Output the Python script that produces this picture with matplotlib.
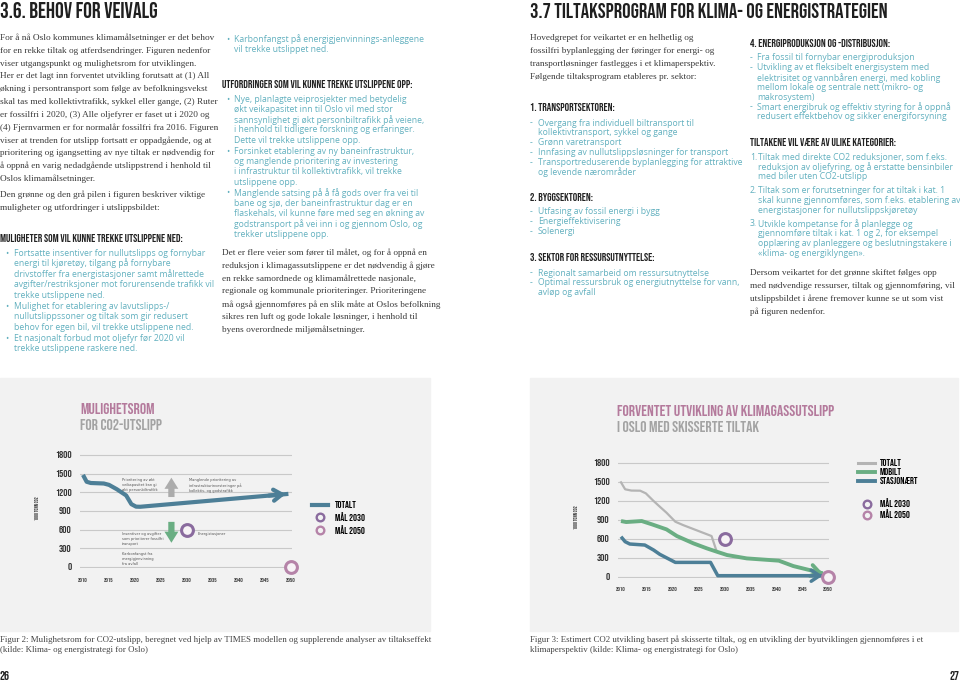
"""
Two-page report spread: text columns plus two CO2 emission charts.
"""

import matplotlib
matplotlib.use("Agg")
import matplotlib.pyplot as plt
from matplotlib import font_manager
from matplotlib.lines import Line2D
from matplotlib.patches import Rectangle

W, H = 960, 682

# ---- chart data -------------------------------------------------------------
year_ticks = [2010, 2015, 2020, 2025, 2030, 2035, 2040, 2045, 2050]
value_ticks = [0, 300, 600, 900, 1200, 1500, 1800]

# figur 2: mulighetsrom (TOTALT)
mul_years = [2010, 2010.7, 2011.5, 2014, 2015, 2016.5, 2018.3, 2019.3, 2020.2, 2021, 2049.5]
mul_total = [1480, 1370, 1350, 1342, 1320, 1250, 1150, 1010, 970, 968, 1175]
mul_up_arrow = [1080, 1480]      # grå pil (utfordringer)
mul_down_arrow = [770, 345]      # grønn pil (muligheter)
mul_arrow_year = 2027

# figur 3: forventet utvikling
fv_total_years = [2010, 2010.8, 2012, 2013.7, 2014.8, 2016.3, 2017.5, 2018.8, 2020.5, 2022, 2027.5, 2028.4]
fv_total = [1490, 1380, 1360, 1358, 1316, 1195, 1105, 1010, 868, 815, 642, 420]
fv_mobil_years = [2010, 2011, 2014, 2016, 2018.8, 2020.8, 2024, 2026.6, 2028.5, 2030.5, 2034.3, 2040.5, 2043.3, 2049]
fv_mobil = [879, 863, 879, 826, 747, 642, 526, 447, 395, 342, 289, 253, 168, 53]
fv_stasj_years = [2010, 2010.8, 2011.7, 2014.6, 2016.3, 2017.5, 2020.5, 2027.3, 2028.7, 2049.5]
fv_stasj = [632, 553, 516, 500, 421, 353, 226, 226, 16, 16]

goal_years = [2030, 2050]
goal_values = [600, 0]

# ---- colours ----------------------------------------------------------------
BLUE = "#4d7f97"
GREEN = "#6aae83"
GREY_LINE = "#b4b4b4"
GOAL_2030 = "#8a6b9e"
GOAL_2050 = "#b583a8"
TITLE_PINK = "#b47a9c"
TITLE_GREY = "#a3a3a3"
TEAL = "#62b0bf"
DARK = "#3a3a3a"
PANEL = "#f2f2f2"

# ---- fonts ------------------------------------------------------------------
names = {f.name for f in font_manager.fontManager.ttflist}


def pick(*cands):
    for c in cands:
        if c in names:
            return c
    return "DejaVu Sans"


COND = pick("Bebas Neue", "Oswald", "Roboto Condensed", "Liberation Sans Narrow",
            "DejaVu Sans Condensed", "DejaVu Sans")
SANS = pick("Open Sans", "Lato", "DejaVu Sans")
SERIF = pick("Liberation Serif", "DejaVu Serif")

fig = plt.figure(figsize=(9.6, 6.82), dpi=100)
fig.patch.set_facecolor("white")
renderer = fig.canvas.get_renderer()


def put(x, y, s, **kw):
    kw.setdefault("va", "center")
    return fig.text(x / W, 1 - y / H, s, **kw)


def fit_size(s, width, **kw):
    t = fig.text(0, 0, s, fontsize=10, **kw)
    w = t.get_window_extent(renderer).width
    t.remove()
    return 10 * width / w


def block(x, y0, dy, lines, **kw):
    for i, s in enumerate(lines):
        put(x, y0 + i * dy, s, **kw)


def listing(xm, xt, y0, dy, items, marks, gap=0, **kw):
    y = y0
    for m, item in zip(marks, items):
        put(xm, y, m, **kw)
        for line in item:
            put(xt, y, line, **kw)
            y += dy
        y += gap


# ---- text content -----------------------------------------------------------
intro_left = [
    "For å nå Oslo kommunes klimamålsetninger er det behov",
    "for en rekke tiltak og atferdsendringer. Figuren nedenfor",
    "viser utgangspunkt og mulighetsrom for utviklingen.",
    "Her er det lagt inn forventet utvikling forutsatt at (1) All",
    "økning i persontransport som følge av befolkningsvekst",
    "skal tas med kollektivtrafikk, sykkel eller gange, (2) Ruter",
    "er fossilfri i 2020, (3) Alle oljefyrer er faset ut i 2020 og",
    "(4) Fjernvarmen er for normalår fossilfri fra 2016. Figuren",
    "viser at trenden for utslipp fortsatt er oppadgående, og at",
    "prioritering og igangsetting av nye tiltak er nødvendig for",
    "å oppnå en varig nedadgående utslippstrend i henhold til",
    "Oslos klimamålsetninger.",
]
intro_left2 = [
    "Den grønne og den grå pilen i figuren beskriver viktige",
    "muligheter og utfordringer i utslippsbildet:",
]
muligheter = [
    ["Fortsatte insentiver for nullutslipps og fornybar",
     "energi til kjøretøy, tilgang på fornybare",
     "drivstoffer fra energistasjoner samt målrettede",
     "avgifter/restriksjoner mot forurensende trafikk vil",
     "trekke utslippene ned."],
    ["Mulighet for etablering av lavutslipps-/",
     "nullutslippssoner og tiltak som gir redusert",
     "behov for egen bil, vil trekke utslippene ned."],
    ["Et nasjonalt forbud mot oljefyr før 2020 vil",
     "trekke utslippene raskere ned."],
]
karbon = [["Karbonfangst på energigjenvinnings-anleggene",
           "vil trekke utslippet ned."]]
utfordringer = [
    ["Nye, planlagte veiprosjekter med betydelig",
     "økt veikapasitet inn til Oslo vil med stor",
     "sannsynlighet gi økt personbiltrafikk på veiene,",
     "i henhold til tidligere forskning og erfaringer.",
     "Dette vil trekke utslippene opp."],
    ["Forsinket etablering av ny baneinfrastruktur,",
     "og manglende prioritering av investering",
     "i infrastruktur til kollektivtrafikk, vil trekke",
     "utslippene opp."],
    ["Manglende satsing på å få gods over fra vei til",
     "bane og sjø, der baneinfrastruktur dag er en",
     "flaskehals, vil kunne føre med seg en økning av",
     "godstransport på vei inn i og gjennom Oslo, og",
     "trekker utslippene opp."],
]
mid_para = [
    "Det er flere veier som fører til målet, og for å oppnå en",
    "reduksjon i klimagassutslippene er det nødvendig å gjøre",
    "en rekke samordnede og klimamålrettede nasjonale,",
    "regionale og kommunale prioriteringer. Prioriteringene",
    "må også gjennomføres på en slik måte at Oslos befolkning",
    "sikres ren luft og gode lokale løsninger, i henhold til",
    "byens overordnede miljømålsetninger.",
]
right_intro = [
    "Hovedgrepet for veikartet er en helhetlig og",
    "fossilfri byplanlegging der føringer for energi- og",
    "transportløsninger fastlegges i et klimaperspektiv.",
    "Følgende tiltaksprogram etableres pr. sektor:",
]
transport = [
    ["Overgang fra individuell biltransport til", "kollektivtransport, sykkel og gange"],
    ["Grønn varetransport"],
    ["Innfasing av nullutslippsløsninger for transport"],
    ["Transportreduserende byplanlegging for attraktive", "og levende nærområder"],
]
bygg = [["Utfasing av fossil energi i bygg"], ["Energieffektivisering"], ["Solenergi"]]
ressurs = [
    ["Regionalt samarbeid om ressursutnyttelse"],
    ["Optimal ressursbruk og energiutnyttelse for vann,", "avløp og avfall"],
]
energi = [
    ["Fra fossil til fornybar energiproduksjon"],
    ["Utvikling av et fleksibelt energisystem med",
     "elektrisitet og vannbåren energi, med kobling",
     "mellom lokale og sentrale nett (mikro- og",
     "makrosystem)"],
    ["Smart energibruk og effektiv styring for å oppnå",
     "redusert effektbehov og sikker energiforsyning"],
]
kategorier = [
    ["Tiltak med direkte CO2 reduksjoner, som f.eks.",
     "reduksjon av oljefyring, og å erstatte bensinbiler",
     "med biler uten CO2-utslipp"],
    ["Tiltak som er forutsetninger for at tiltak i kat. 1",
     "skal kunne gjennomføres, som f.eks. etablering av",
     "energistasjoner for nullutslippskjøretøy"],
    ["Utvikle kompetanse for å planlegge og",
     "gjennomføre tiltak i kat. 1 og 2, for eksempel",
     "opplæring av planleggere og beslutningstakere i",
     "«klima- og energiklyngen»."],
]
right_outro = [
    "Dersom veikartet for det grønne skiftet følges opp",
    "med nødvendige ressurser, tiltak og gjennomføring, vil",
    "utslippsbildet i årene fremover kunne se ut som vist",
    "på figuren nedenfor.",
]
cap2 = ["Figur 2: Mulighetsrom for CO2-utslipp, beregnet ved hjelp av TIMES modellen og supplerende analyser av tiltakseffekt",
        "(kilde: Klima- og energistrategi for Oslo)"]
cap3 = ["Figur 3: Estimert CO2 utvikling basert på skisserte tiltak, og en utvikling der byutviklingen gjennomføres i et",
        "klimaperspektiv (kilde: Klima- og energistrategi for Oslo)"]

# ---- page text --------------------------------------------------------------
head_kw = dict(family=COND, weight="bold", color="#1f1f1f", stretch="condensed")
put(0, 10, "3.6. BEHOV FOR VEIVALG",
    fontsize=fit_size("3.6. BEHOV FOR VEIVALG", 160, **head_kw), **head_kw)
t37 = "3.7 TILTAKSPROGRAM FOR KLIMA- OG ENERGISTRATEGIEN"
put(530, 10, t37, fontsize=fit_size(t37, 359, **head_kw), **head_kw)

serif_kw = dict(family=SERIF, color=DARK)
serif_kw["fontsize"] = fit_size(intro_left[0], 214, **serif_kw)
teal_kw = dict(family=SANS, color=TEAL)
teal_kw["fontsize"] = fit_size(karbon[0][0], 188, **teal_kw)
sub_kw = dict(family=COND, weight="bold", color="#222222", stretch="condensed")
sub_kw["fontsize"] = fit_size("UTFORDRINGER SOM VIL KUNNE TREKKE UTSLIPPENE OPP:", 192, **sub_kw)

# left column
block(0, 38, 12.8, intro_left, **serif_kw)
block(0, 195, 12.8, intro_left2, **serif_kw)
put(0, 238, "MULIGHETER SOM VIL KUNNE TREKKE UTSLIPPENE NED:", **sub_kw)
listing(5, 14, 253, 10.5, muligheter, ["•"] * 3, gap=0.6, **teal_kw)

# middle column
listing(226, 234, 39, 10.5, karbon, ["•"], **teal_kw)
put(222, 84, "UTFORDRINGER SOM VIL KUNNE TREKKE UTSLIPPENE OPP:", **sub_kw)
listing(226, 234, 99, 10.3, utfordringer, ["•"] * 3, gap=0.6, **teal_kw)
block(222, 253, 12.8, mid_para, **serif_kw)

# right page, column 1
block(530, 38, 13, right_intro, **serif_kw)
put(530, 107, "1. TRANSPORTSEKTOREN:", **sub_kw)
listing(530, 538, 123, 9.8, transport, ["-"] * 4, **teal_kw)
put(530, 197, "2. BYGGSEKTOREN:", **sub_kw)
listing(530, 538, 212, 9.8, bygg, ["-"] * 3, **teal_kw)
put(530, 257, "3. SEKTOR FOR RESSURSUTNYTTELSE:", **sub_kw)
listing(530, 538, 273, 9.8, ressurs, ["-"] * 2, **teal_kw)

# right page, column 2
put(750, 43, "4. ENERGIPRODUKSJON OG -DISTRIBUSJON:", **sub_kw)
listing(750, 757, 58, 9.8, energi, ["-"] * 3, **teal_kw)
put(750, 142, "TILTAKENE VIL VÆRE AV ULIKE KATEGORIER:", **sub_kw)
listing(750, 758, 157, 9.8, kategorier, ["1.", "2.", "3."], gap=4, **teal_kw)
block(750, 273, 12.8, right_outro, **serif_kw)

# captions and page numbers
cap_kw = dict(family=SERIF, color="#444444")
cap_kw["fontsize"] = fit_size(cap2[0], 430, **cap_kw)
block(0, 640, 10.5, cap2, **cap_kw)
block(530, 640, 10.5, cap3, **cap_kw)
put(0, 676, "26", fontsize=9, **head_kw)
put(960, 676, "27", fontsize=9, ha="right", **head_kw)

# grey panels behind the charts
for x0, x1 in [(0, 430), (530, 958)]:
    fig.add_artist(Rectangle((x0 / W, 1 - 631 / H), (x1 - x0) / W, (631 - 378) / H,
                             transform=fig.transFigure, color=PANEL, zorder=-1))


# ---- charts -----------------------------------------------------------------
def make_axes(p2010, p2050, p0, p1800, xlim=(2009.4, 2050.2), ylim=(-15, 1815)):
    sx = (p2050 - p2010) / 40
    sy = (p0 - p1800) / 1800
    left = p2010 + (xlim[0] - 2010) * sx
    right = p2010 + (xlim[1] - 2010) * sx
    bottom = p0 - (ylim[0]) * sy
    top = p0 - (ylim[1]) * sy
    ax = fig.add_axes([left / W, 1 - bottom / H, (right - left) / W, (bottom - top) / H])
    ax.set_xlim(*xlim)
    ax.set_ylim(*ylim)
    ax.patch.set_visible(False)
    for sp in ax.spines.values():
        sp.set_visible(False)
    ax.set_xticks(year_ticks)
    ax.set_yticks(value_ticks)
    ax.tick_params(length=0, colors="#333333")
    ax.tick_params(axis="y", pad=6)
    ax.tick_params(axis="x", pad=7)
    for lab in ax.get_yticklabels():
        lab.set_fontproperties(dict(family=COND, weight="bold", size=7.5, stretch="condensed"))
    for lab in ax.get_xticklabels():
        lab.set_fontproperties(dict(family=COND, weight="bold", size=4.2, stretch="condensed"))
    ax.grid(axis="y", color="#c9c9c9", lw=0.8)
    ax.set_axisbelow(True)
    return ax


def line_with_head(ax, xs, ys, color, lw):
    ax.plot(xs, ys, color=color, lw=lw, solid_capstyle="butt", zorder=3)
    tail = (xs[-1] - 0.15 * (xs[-1] - xs[-2]), ys[-1] - 0.15 * (ys[-1] - ys[-2]))
    ax.annotate("", xy=(xs[-1], ys[-1]), xytext=tail,
                arrowprops=dict(arrowstyle="->,head_length=0.6,head_width=0.4",
                                color=color, lw=lw), zorder=3)


def goals(ax, ms=8.5):
    for yr, v, c in zip(goal_years, goal_values, [GOAL_2030, GOAL_2050]):
        ax.plot([yr], [v], ls="", marker="o", ms=ms, mfc="#f7f3f6", mec=c, mew=2.2,
                clip_on=False, zorder=4)


def goal_handles():
    return [Line2D([], [], ls="", marker="o", ms=5.5, mfc="none", mec=c, mew=1.7)
            for c in [GOAL_2030, GOAL_2050]]


title_kw = dict(family=COND, weight="bold", stretch="condensed")
small_kw = dict(family=COND, weight="bold", stretch="condensed", color="#333333")
legend_prop = dict(family=COND, weight="bold", size=7.0, stretch="condensed")
leg_kw = dict(loc="upper left", bbox_transform=fig.transFigure, frameon=False,
              borderpad=0, borderaxespad=0, prop=legend_prop)
big_arrow = "simple,head_length=0.8,head_width=1.0,tail_width=0.45"

# figur 2
ax1 = make_axes(83, 291, 567, 455)
line_with_head(ax1, mul_years, mul_total, BLUE, 3)
ax1.annotate("", xy=(mul_arrow_year, mul_up_arrow[1]), xytext=(mul_arrow_year, mul_up_arrow[0]),
             arrowprops=dict(arrowstyle=big_arrow, color="#acacac", lw=0), zorder=3)
ax1.annotate("", xy=(mul_arrow_year, mul_down_arrow[1]), xytext=(mul_arrow_year, mul_down_arrow[0]),
             arrowprops=dict(arrowstyle=big_arrow, color=GREEN, lw=0), zorder=3)
goals(ax1)
note_kw = dict(fontsize=2.6, color="#555555", va="top", linespacing=1.3)
ax1.text(2017.5, 1430, "Prioritering av økt\nveikapasitet kan gi\nøkt personbiltrafikk", **note_kw)
ax1.text(2030.3, 1430, "Manglende prioritering av\ninfrastrukturinvesteringer på\nkollektiv- og godstrafikk", **note_kw)
ax1.text(2017.5, 565, "Insentiver og avgifter\nsom prioriterer fossilfri\ntransport", **note_kw)
ax1.text(2032, 565, "Energistasjoner", **note_kw)
ax1.text(2017.5, 245, "Karbonfangst fra\nenergigjenvinning\nfra avfall", **note_kw)
put(37, 508, "1000 TONN CO2", rotation=90, ha="center", fontsize=3.6, **small_kw)
t_size = fit_size("MULIGHETSROM", 75, **title_kw)
put(80, 408, "MULIGHETSROM", fontsize=t_size, color=TITLE_PINK, **title_kw)
put(80, 424, "FOR CO2-UTSLIPP", fontsize=t_size, color=TITLE_GREY, **title_kw)
h1 = [Line2D([], [], color=BLUE, lw=3)] + goal_handles()
ax1.legend(h1, ["TOTALT", "MÅL 2030", "MÅL 2050"], bbox_to_anchor=(312 / W, 1 - 501 / H),
           handlelength=1.65, handletextpad=0.7, labelspacing=0.4, **leg_kw)

# figur 3
ax2 = make_axes(621, 828, 576.7, 462.7)
ax2.plot(fv_total_years, fv_total, color=GREY_LINE, lw=1.6, zorder=2)
line_with_head(ax2, fv_mobil_years, fv_mobil, GREEN, 2.8)
line_with_head(ax2, fv_stasj_years, fv_stasj, BLUE, 2.5)
goals(ax2)
put(576, 517, "1000 TONN CO2", rotation=90, ha="center", fontsize=3.6, **small_kw)
t3 = "FORVENTET UTVIKLING AV KLIMAGASSUTSLIPP"
t_size = fit_size(t3, 218, **title_kw)
put(617, 410, t3, fontsize=t_size, color=TITLE_PINK, **title_kw)
put(617, 426, "I OSLO MED SKISSERTE TILTAK", fontsize=t_size, color=TITLE_GREY, **title_kw)
h2 = [Line2D([], [], color=GREY_LINE, lw=2.2),
      Line2D([], [], color=GREEN, lw=2.8),
      Line2D([], [], color=BLUE, lw=2.8)]
lines_leg = ax2.legend(h2, ["TOTALT", "MOBILT", "STASJONÆRT"], bbox_to_anchor=(858 / W, 1 - 459 / H),
                       handlelength=1.75, handletextpad=0.5, labelspacing=0.22, **leg_kw)
ax2.add_artist(lines_leg)
ax2.legend(goal_handles(), ["MÅL 2030", "MÅL 2050"], bbox_to_anchor=(858 / W, 1 - 498 / H),
           handlelength=1.75, handletextpad=0.5, labelspacing=0.22, **leg_kw)

plt.savefig("out.png", dpi=100)
plt.close()
